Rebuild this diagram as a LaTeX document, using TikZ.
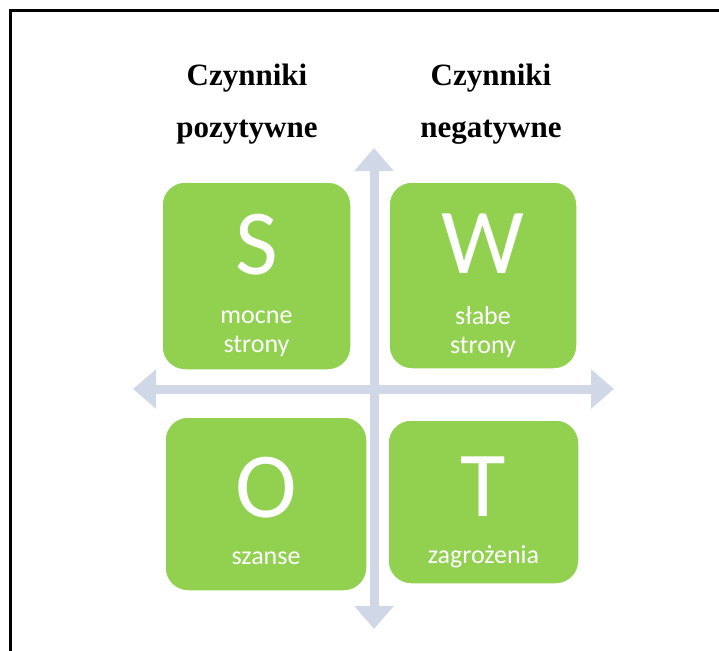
\documentclass[tikz,border=0pt]{standalone}
\usepackage{fontspec}
\setmainfont{Liberation Serif}
\newfontfamily\boxfont{Carlito}
\usetikzlibrary{arrows.meta}
\definecolor{swotgreen}{RGB}{146,208,80}
\definecolor{axisblue}{RGB}{208,216,232}
\begin{document}
\begin{tikzpicture}[x=1pt,y=-1pt,
  frame/.style={line width=3pt,black},
  axis/.style={line width=9pt,axisblue,{Triangle[width=38pt,length=23pt]}-{Triangle[width=38pt,length=23pt]}},
  head/.style={font=\fontsize{31}{52}\selectfont\bfseries,align=center,inner sep=0pt},
  box/.style={fill=swotgreen,draw=white,line width=1.5pt,rounded corners=23pt,inner sep=0pt},
  letter/.style={font=\boxfont\fontsize{93}{93}\selectfont,text=white,inner sep=0pt,anchor=base},
  lab/.style={font=\boxfont\fontsize{26}{29}\selectfont,text=white,inner sep=0pt,align=center,anchor=base}]
\useasboundingbox (0,0) rectangle (719,650);
\draw[frame] (10.5,652) -- (10.5,11) -- (721,11);
% axes
\coordinate (ytop) at (374,148);
\coordinate (ybot) at (374,629);
\coordinate (xl) at (133,389);
\coordinate (xr) at (614,389);
\draw[axis] (ytop) -- (ybot);
\draw[axis] (xl) -- (xr);
% headings (base = baseline of the last line)
\node[head,anchor=base] (hpos) at (247,137) {Czynniki\\pozytywne};
\node[head,anchor=base] (hneg) at (491,137) {Czynniki\\negatywne};
% boxes
\node[box,minimum width=189pt,minimum height=188pt] (S) at (256.5,276) {};
\node[box,minimum width=188pt,minimum height=187pt] (W) at (483,275.5) {};
\node[box,minimum width=202pt,minimum height=174pt] (O) at (266,504) {};
\node[box,minimum width=191pt,minimum height=164pt] (T) at (483.5,502) {};
% letters
\node[letter] (Sl) at (256.5,274) {S};
\node[letter] (Wl) at (483,273) {W};
\node[letter] (Ol) at (266,517) {O};
\node[letter] (Tl) at (483.5,516) {T};
% labels
\node[lab] (Sx) at (256.5,352) {mocne\\strony};
\node[lab] (Wx) at (483,353) {słabe\\strony};
\node[lab] (Ox) at (266,564) {szanse};
\node[lab] (Tx) at (483.5,563) {zagrożenia};
\end{tikzpicture}
\end{document}
